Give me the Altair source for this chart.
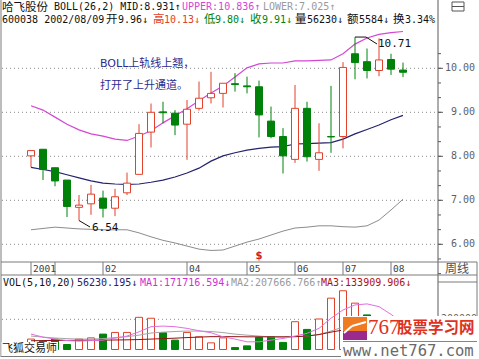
import altair as alt
import pandas as pd

# ---------------- data (weekly candles, 哈飞股份 600038) ----------------
opens  = [8.01, 8.16, 7.74, 7.46, 6.84, 6.92, 7.05, 6.82, 7.17, 7.59, 8.55, 9.01, 8.98, 8.73, 9.09, 9.33,
          9.43, 9.65, 9.60, 9.58, 8.80, 8.45, 7.93, 9.09, 7.93, 8.45, 8.45, 10.33, 10.15, 9.95, 10.20, 9.96]
highs  = [8.13, 8.16, 7.74, 7.46, 7.12, 7.35, 7.22, 7.26, 7.63, 8.73, 9.20, 9.24, 9.05, 9.28, 9.70, 9.92,
          9.66, 9.89, 9.81, 9.72, 9.13, 8.64, 9.62, 9.24, 8.75, 9.60, 10.14, 10.71, 10.45, 10.68, 10.33, 10.13]
lows   = [7.75, 7.46, 7.32, 6.62, 6.54, 6.67, 6.61, 6.64, 7.12, 7.59, 8.20, 8.75, 8.48, 7.92, 9.04, 9.20,
          9.11, 9.47, 9.43, 8.43, 8.41, 7.61, 7.85, 7.88, 7.67, 8.08, 8.18, 9.75, 9.77, 9.82, 9.85, 9.80]
closes = [8.13, 7.70, 7.44, 6.86, 6.89, 7.14, 6.82, 7.08, 7.39, 8.52, 9.00, 8.99, 8.71, 9.07, 9.32, 9.43,
          9.66, 9.63, 9.58, 8.94, 8.45, 8.01, 9.09, 7.99, 8.08, 8.44, 10.02, 10.13, 9.95, 10.19, 9.98, 9.91]

boll_upper = [9.15, 9.05, 8.89, 8.73, 8.60, 8.51, 8.46, 8.39, 8.36, 8.46, 8.58, 8.76, 8.92, 9.08, 9.26, 9.44,
              9.60, 9.80, 10.01, 10.10, 10.12, 10.12, 10.17, 10.17, 10.18, 10.19, 10.33, 10.55, 10.69, 10.77, 10.81, 10.836]
boll_mid   = [7.75, 7.70, 7.65, 7.58, 7.51, 7.44, 7.39, 7.37, 7.36, 7.37, 7.41, 7.46, 7.53, 7.62, 7.73, 7.89,
              8.01, 8.08, 8.14, 8.18, 8.21, 8.22, 8.28, 8.29, 8.30, 8.31, 8.39, 8.51, 8.61, 8.71, 8.83, 8.931]
boll_lower = [6.33, 6.36, 6.39, 6.37, 6.35, 6.34, 6.33, 6.33, 6.33, 6.26, 6.17, 6.09, 6.03, 5.96, 5.89, 5.86,
              5.87, 5.96, 6.05, 6.12, 6.21, 6.30, 6.37, 6.39, 6.42, 6.42, 6.40, 6.39, 6.42, 6.55, 6.78, 7.025]

volumes = [69000, 55000, 69000, 33000, 69000, 77000, 102000, 113000, 113000, 213000, 207000, 111000,
           62000, 113000, 84000, 44000, 77000, 13000, 24000, 80000, 84000, 47000, 184000, 133000,
           202000, 340000, 389000, 307000, 229000, 140000, 126000, 56230.195]
vol_ma1 = [102000, 82000, 69000, 59000, 55000, 59000, 62000, 75000, 89000, 117000, 151000, 155000,
           151000, 140000, 124000, 111000, 84000, 69000, 51000, 51000, 62000, 73000, 89000, 107000,
           140000, 207000, 262000, 295000, 302000, 284000, 233000, 171716.594]
vol_ma2 = [89000, 82000, 76000, 72000, 69000, 69000, 72000, 79000, 85000, 95000, 109000, 115000,
           119000, 122000, 122000, 119000, 112000, 102000, 95000, 89000, 83000, 82000, 85000, 89000,
           99000, 122000, 149000, 175000, 195000, 205000, 209000, 207666.766]
vol_ma3 = [58000, 59000, 60000, 60000, 61000, 61000, 62000, 63000, 64000, 66000, 69000, 72000,
           75000, 79000, 82000, 85000, 85000, 85000, 84000, 84000, 84000, 84000, 85000, 89000,
           99000, 115000, 129000, 135000, 139000, 135000, 133000, 133909.906]

price_ticks = [6, 7, 8, 9, 10]
price_tick_labels = ["6.00", "7.00", "8.00", "9.00", "10.00"]
period_index = [0, 2, 6, 13, 18, 22, 26, 30]
period_labels = ["2001", "", "02", "04", "05", "06", "07", "08"]
vol_grid = [200000]
vol_grid_labels = ["200000"]

# ---------------- styles ----------------
RED = "#e2412b"
GREEN = "#00820a"
MAGENTA = "#d447d4"
NAVY = "#23236e"
GRAY = "#8c8c8c"
BLACK = "#111111"
DARKRED = "#8b1414"
FRAME = "#7a7a7a"
MONO = "DejaVu Sans Mono, Noto Sans CJK SC"
CJK = "Noto Sans CJK SC"

n = len(opens)
df = pd.DataFrame({
    "i": list(range(n)), "open": opens, "high": highs, "low": lows, "close": closes,
    "upper": boll_upper, "mid": boll_mid, "lower": boll_lower,
    "vol": volumes, "ma1": vol_ma1, "ma2": vol_ma2, "ma3": vol_ma3,
})
df["vup"] = df["close"] >= df["close"].shift(1).fillna(-1)

XS = alt.Scale(domain=[0, n - 1], range=[26, 408], nice=False, zero=False)
YP = alt.Scale(domain=[6, 10], range=[244.3, 68.3], nice=False, zero=False)
YV = alt.Scale(domain=[0, 200000], range=[349.5, 319.3], nice=False, zero=False)

def X(f="i:Q"):
    return alt.X(f, scale=XS, axis=None)

def YPr(f):
    return alt.Y(f, scale=YP, axis=None)

def YVo(f):
    return alt.Y(f, scale=YV, axis=None)

one = pd.DataFrame({"k": [0]})
base = alt.Chart(df)
up = "datum.close >= datum.open"

layers = []

def vrule(x, y1, y2, color=FRAME, w=1):
    return alt.Chart(one).mark_rule(color=color, strokeWidth=w).encode(
        x=alt.value(x), y=alt.value(y1), y2=alt.value(y2))

def hrule(y, x1, x2, color=FRAME, w=1):
    return alt.Chart(one).mark_rule(color=color, strokeWidth=w).encode(
        y=alt.value(y), x=alt.value(x1), x2=alt.value(x2))

def label(text, x, y, color=BLACK, font=MONO, size=10, align="left", weight="normal"):
    return alt.Chart(one).mark_text(text=text, align=align, baseline="middle", font=font,
                                    fontSize=size, color=color, fontWeight=weight).encode(
        x=alt.value(x), y=alt.value(y))

# gridlines
grid_df = pd.DataFrame({"p": price_ticks, "lab": price_tick_labels})
layers.append(alt.Chart(grid_df).mark_rule(color="#8a8a8a", strokeDash=[1, 3]).encode(
    y=YPr("p:Q"), x=alt.value(2), x2=alt.value(438)))
vg_df = pd.DataFrame({"v": vol_grid, "lab": vol_grid_labels})
layers.append(alt.Chart(vg_df).mark_rule(color="#8a8a8a", strokeDash=[1, 3]).encode(
    y=YVo("v:Q"), x=alt.value(2), x2=alt.value(438)))

# frame
layers += [
    vrule(1, 0, 357), vrule(438, 0, 357, color="#5a5a5a"), vrule(477, 262, 357),
    hrule(262, 1, 477), hrule(275, 1, 477), hrule(356.5, 1, 477),
    hrule(282, 438, 477),
]
# price axis ticks
minor = [round(5 + k / 3.0, 4) for k in range(1, 17)]
layers.append(alt.Chart(pd.DataFrame({"p": minor})).mark_rule(color="#5a5a5a").encode(
    y=YPr("p:Q"), x=alt.value(438), x2=alt.value(441)))
layers.append(alt.Chart(grid_df).mark_rule(color="#5a5a5a").encode(
    y=YPr("p:Q"), x=alt.value(438), x2=alt.value(443)))
layers.append(alt.Chart(grid_df).mark_text(align="right", baseline="middle", font=MONO,
                                           fontSize=10, color="#5f5f5f").encode(
    y=YPr("p:Q"), x=alt.value(475), text="lab:N"))
layers.append(alt.Chart(vg_df).mark_text(align="right", baseline="middle", font=MONO,
                                         fontSize=10, color="#5f5f5f").encode(
    y=YVo("v:Q"), x=alt.value(477), text="lab:N"))

# time strip
per_df = pd.DataFrame({"i": period_index, "lab": period_labels})
layers.append(alt.Chart(per_df).mark_rule(color=FRAME).encode(
    x=X(), y=alt.value(262), y2=alt.value(275)))
layers.append(alt.Chart(per_df).mark_text(align="left", baseline="middle", font=MONO,
                                          fontSize=9.5, color="#404040", dx=2).encode(
    x=X(), y=alt.value(268.5), text="lab:N"))
layers.append(label("周线", 445, 268.5, color="#505050", font=CJK, size=12))

# Bollinger bands
layers.append(base.mark_line(color=GRAY, strokeWidth=1).encode(x=X(), y=YPr("lower:Q")))
layers.append(base.mark_line(color=NAVY, strokeWidth=1.2).encode(x=X(), y=YPr("mid:Q")))
layers.append(base.mark_line(color=MAGENTA, strokeWidth=1.2).encode(x=X(), y=YPr("upper:Q")))

# candles
layers.append(base.mark_rule(strokeWidth=1).encode(
    x=X(), y=YPr("low:Q"), y2="high:Q",
    color=alt.condition(up, alt.value(RED), alt.value(GREEN))))
layers.append(base.mark_bar(size=7, strokeWidth=1).encode(
    x=X(), y=YPr("open:Q"), y2="close:Q",
    fill=alt.condition(up, alt.value("white"), alt.value(GREEN)),
    stroke=alt.condition(up, alt.value(RED), alt.value(GREEN))))

# volume bars + MAs
layers.append(base.mark_bar(size=7, strokeWidth=1).encode(
    x=X(), y=YVo("vol:Q"), y2=alt.datum(0),
    fill=alt.condition("datum.vup", alt.value("white"), alt.value(GREEN)),
    stroke=alt.condition("datum.vup", alt.value(RED), alt.value(GREEN))))
layers.append(base.mark_line(color="#a5a5a5", strokeWidth=1).encode(x=X(), y=YVo("ma2:Q")))
layers.append(base.mark_line(color=DARKRED, strokeWidth=1).encode(x=X(), y=YVo("ma3:Q")))
layers.append(base.mark_line(color="#e070e0", strokeWidth=1).encode(x=X(), y=YVo("ma1:Q")))

# extreme labels
lo_i = lows.index(min(lows))
hi_i = highs.index(max(highs))
lo_df = pd.DataFrame({"i": [lo_i], "p": [lows[lo_i]], "t": [f"{lows[lo_i]:.2f}"]})
hi_df = pd.DataFrame({"i": [hi_i], "p": [highs[hi_i]], "t": [f"{highs[hi_i]:.2f}"]})
layers.append(alt.Chart(lo_df).mark_rule(color=BLACK).encode(
    x=X(), y=YPr("p:Q"), x2=alt.value(90), y2=alt.value(227)))
layers.append(alt.Chart(lo_df).mark_text(align="left", baseline="middle", font=MONO,
                                         fontSize=11, color=BLACK).encode(
    x=alt.value(92), y=alt.value(227.5), text="t:N"))
layers.append(alt.Chart(hi_df).mark_rule(color=BLACK).encode(
    x=X(), x2=alt.value(366), y=YPr("p:Q")))
layers.append(alt.Chart(hi_df).mark_rule(color=BLACK).encode(
    x=alt.value(366), y=YPr("p:Q"), x2=alt.value(377), y2=alt.value(44)))
layers.append(alt.Chart(hi_df).mark_text(align="left", baseline="middle", font=MONO,
                                         fontSize=11, color=BLACK).encode(
    x=alt.value(378), y=alt.value(44), text="t:N"))

# "$" marker
layers.append(alt.Chart(pd.DataFrame({"i": [19]})).mark_text(
    text="$", font="DejaVu Sans", fontSize=10, fontWeight="bold", color="#d02020",
    baseline="middle").encode(x=X(), y=alt.value(256)))

# annotation
layers.append(label("BOLL上轨线上翘，", 100, 64, color="#2c2c90", font="DejaVu Sans, Noto Sans CJK SC", size=11))
layers.append(label("打开了上升通道。", 100, 85.5, color="#2c2c90", font=CJK, size=11))

# header
o, h, l, c = opens[-1], highs[-1], lows[-1], closes[-1]
head = [
    ("哈飞股份", 2, 7.5, BLACK, CJK, 11.5),
    (f"BOLL(26,2) MID:{boll_mid[-1]:.3f}↑", 54, 7, BLACK, MONO, 10),
    (f"UPPER:{boll_upper[-1]:.3f}↑", 182, 7, MAGENTA, MONO, 10),
    (f"LOWER:{boll_lower[-1]:.3f}↑", 263, 7, "#9a9a9a", MONO, 10),
    ("600038 2002/08/09", 2, 19.5, BLACK, MONO, 10),
    ("开", 106, 19.5, BLACK, CJK, 11.5), (f"{o:.2f}↓", 118, 19.5, BLACK, MONO, 10),
    ("高", 153, 19.5, RED, CJK, 11.5), (f"{h:.2f}↓", 164, 19.5, RED, MONO, 10),
    ("低", 204, 19.5, GREEN, CJK, 11.5), (f"{l:.2f}↓", 215, 19.5, GREEN, MONO, 10),
    ("收", 250, 19.5, GREEN, CJK, 11.5), (f"{c:.2f}↓", 262, 19.5, GREEN, MONO, 10),
    ("量", 295, 19.5, BLACK, CJK, 11.5), (f"{int(volumes[-1])}↓", 307, 19.5, BLACK, MONO, 10),
    ("额", 347, 19.5, BLACK, CJK, 11.5), ("5584↓", 359, 19.5, BLACK, MONO, 10),
    ("换", 393, 19.5, BLACK, CJK, 11.5), ("3.34%", 405, 19.5, BLACK, MONO, 10),
    ("VOL(5,10,20)", 3, 283, BLACK, MONO, 10),
    (f"{volumes[-1]:.3f}↓", 77, 283, NAVY, MONO, 10),
    (f"MA1:{vol_ma1[-1]:.3f}↓", 140, 283, "#d030d0", MONO, 10),
    (f"MA2:{vol_ma2[-1]:.3f}↑", 231, 283, "#9a9a9a", MONO, 10),
    (f"MA3:{vol_ma3[-1]:.3f}↓", 321, 283, "#b01010", MONO, 10),
]
for t, x, y, col, f, s in head:
    layers.append(label(t, x, y, color=col, font=f, size=s))

# top-right icon
layers.append(alt.Chart(one).mark_rect(fill="white", stroke="#555555", strokeWidth=1).encode(
    x=alt.value(452), x2=alt.value(464), y=alt.value(2), y2=alt.value(11)))
layers.append(hrule(6.5, 452, 464, color="#555555"))

# bottom-left watermark
layers.append(alt.Chart(one).mark_rect(fill="white").encode(
    x=alt.value(1.5), x2=alt.value(58), y=alt.value(342), y2=alt.value(356)))
layers.append(label("飞狐交易师", 2, 349, color=BLACK, font=CJK, size=11))

# bottom-right logo
layers.append(alt.Chart(one).mark_rect(fill="white").encode(
    x=alt.value(341), x2=alt.value(479), y=alt.value(316), y2=alt.value(359)))
layers.append(alt.Chart(one).mark_rect(fill="#f07a22").encode(
    x=alt.value(343), x2=alt.value(367), y=alt.value(317), y2=alt.value(340)))
layers.append(alt.Chart(one).mark_rect(fill="#9b2a8e").encode(
    x=alt.value(343), x2=alt.value(367), y=alt.value(331), y2=alt.value(340)))
layers.append(alt.Chart(one).mark_rule(color="white", strokeWidth=2).encode(
    x=alt.value(344), y=alt.value(333), x2=alt.value(352), y2=alt.value(326)))
layers.append(alt.Chart(one).mark_rule(color="white", strokeWidth=2).encode(
    x=alt.value(352), y=alt.value(326), x2=alt.value(366), y2=alt.value(322)))
layers.append(label("767", 368, 328, color="#e0301e", font="Liberation Serif", size=21))
layers.append(label("股票学习网", 397, 328, color="#e0301e", font=CJK, size=15.5, weight="bold"))
layers.append(hrule(341.5, 343, 477, color="#e85a5a"))
layers.append(label("www.net767.com", 343, 350.5, color="#6a6a6a", font="DejaVu Sans Mono", size=15.5))

chart = alt.layer(*layers).resolve_scale(y="independent").properties(
    width=479, height=359, autosize=alt.AutoSizeParams(type="none"), padding=0,
    background="white",
).configure_view(strokeWidth=0)

chart.save("out.html", embed_options={"renderer": "svg", "actions": False})
